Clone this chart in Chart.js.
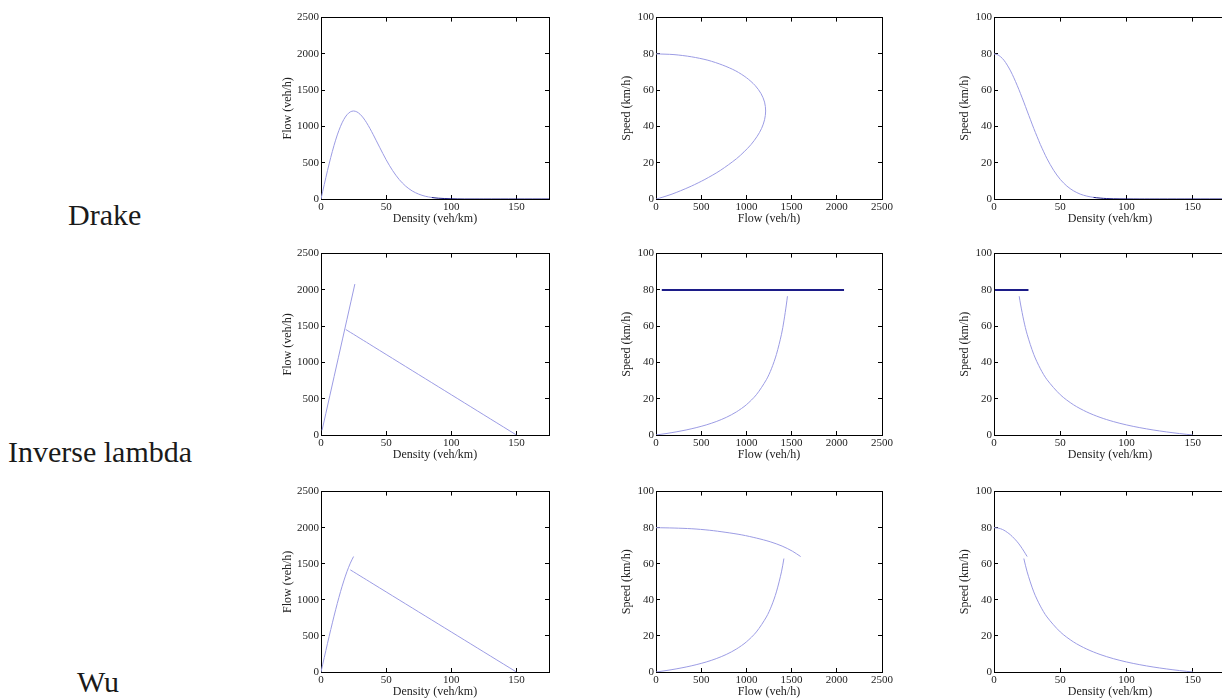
<!DOCTYPE html>
<html>
<head>
<meta charset="utf-8">
<script src="https://cdn.jsdelivr.net/npm/chart.js@4.4.0/dist/chart.umd.min.js"></script>
<style>
  html, body { margin: 0; padding: 0; background: #fff; width: 1222px; height: 700px; overflow: hidden; }
  canvas { position: absolute; }
  .model { position: absolute; font-family: "Liberation Serif", serif; font-size: 30px; line-height: 30px; color: #1a1a1a; white-space: nowrap; }
</style>
</head>
<body>
<div class="model" style="left:68px;top:200px">Drake</div>
<div class="model" style="left:8px;top:437px">Inverse lambda</div>
<div class="model" style="left:77px;top:667px">Wu</div>

<script>
// tick labels
const densityTicks = [0, 50, 100, 150];
const flowTicks = [0, 500, 1000, 1500, 2000, 2500];
const speedTicks = [0, 20, 40, 60, 80, 100];
const densityMax = 175;
const flowMax = 2500;
const speedMax = 100;

// Drake (one curve)
const drakeDensity = [0, 2.5, 5, 7.5, 10, 12.5, 15, 17.5, 20, 22.5, 25, 27.5, 30, 32.5, 35, 37.5, 40, 45, 50, 55, 60, 65, 70, 75, 80, 85, 90, 100, 110, 125, 150, 175];
const drakeFlow = [0, 199, 392, 574, 738, 883, 1002, 1096, 1162, 1201, 1213, 1201, 1168, 1117, 1051, 974, 890, 713, 541, 391, 269, 177, 111, 67, 38, 21, 11, 3, 0, 0, 0, 0];
const drakeSpeed = [80, 79.6, 78.4, 76.5, 73.8, 70.6, 66.8, 62.6, 58.1, 53.4, 48.5, 43.7, 38.9, 34.4, 30.0, 26.0, 22.2, 15.8, 10.8, 7.1, 4.5, 2.7, 1.6, 0.9, 0.5, 0.25, 0.12, 0.03, 0, 0, 0, 0];

// Inverse lambda: free-flow branch and congested branch
const lambdaFreeDensity = [0.8, 26];
const lambdaFreeFlow = [64, 2080];
const lambdaFreeSpeed = [80, 80];
const lambdaCongDensity = [19, 20, 22.5, 25, 30, 35, 40, 50, 60, 70, 80, 90, 100, 110, 120, 130, 140, 150];
const lambdaCongFlow = [1454, 1443, 1415, 1388, 1332, 1277, 1221, 1110, 999, 888, 777, 666, 555, 444, 333, 222, 111, 0];
const lambdaCongSpeed = [76.5, 72.2, 62.9, 55.5, 44.4, 36.5, 30.5, 22.2, 16.65, 12.69, 9.71, 7.4, 5.55, 4.04, 2.78, 1.71, 0.79, 0];

// Wu: free-flow branch and congested branch
const wuFreeDensity = [0, 2.5, 5, 7.5, 10, 12.5, 15, 17.5, 20, 22.5, 25];
const wuFreeFlow = [0, 200, 397, 589, 774, 950, 1114, 1263, 1395, 1508, 1600];
const wuFreeSpeed = [80, 79.8, 79.4, 78.6, 77.4, 76.0, 74.2, 72.2, 69.8, 67.0, 64.0];
const wuCongDensity = [22.5, 25, 30, 35, 40, 50, 60, 70, 80, 90, 100, 110, 120, 130, 140, 150];
const wuCongFlow = [1415, 1388, 1332, 1277, 1221, 1110, 999, 888, 777, 666, 555, 444, 333, 222, 111, 0];
const wuCongSpeed = [62.9, 55.5, 44.4, 36.5, 30.5, 22.2, 16.65, 12.69, 9.71, 7.4, 5.55, 4.04, 2.78, 1.71, 0.79, 0];

const LIGHT = "#9c9ce4";
const NAVY = "#1c1c88";
const TEXT = "#222";
const FONT = "'Liberation Serif', 'Times New Roman', serif";

const colLeft = [321, 656, 994];
const colWidth = [228, 233, 232];
const rowTop = [15, 251, 489];
const rowHeight = [184, 184, 183];

const DENSITY = { max: densityMax, ticks: densityTicks, title: "Density (veh/km)" };
const FLOW = { max: flowMax, ticks: flowTicks, title: "Flow (veh/h)" };
const SPEED = { max: speedMax, ticks: speedTicks, title: "Speed (km/h)" };

function pts(xs, ys) {
  return xs.map((x, i) => ({ x: x, y: ys[i] }));
}

function axis(pos, def, size, labels) {
  const horizontal = pos === "bottom" || pos === "top";
  return {
    type: "linear",
    position: pos,
    min: 0,
    max: def.max,
    afterBuildTicks: (s) => { s.ticks = def.ticks.map((v) => ({ value: v })); },
    afterFit: (s) => { if (horizontal) s.height = size; else s.width = size; },
    border: { display: true, color: "#000", width: 1 },
    grid: { drawOnChartArea: false, drawTicks: true, tickLength: -4, tickColor: "#000", tickWidth: 1 },
    ticks: {
      display: labels,
      padding: 6,
      color: TEXT,
      font: { family: FONT, size: 11 },
      callback: (v) => String(v),
    },
    title: {
      display: labels,
      text: def.title,
      padding: 0,
      color: TEXT,
      font: { family: FONT, size: 12 },
    },
  };
}

function line(xs, ys, color, width, tailLimit) {
  const ds = {
    data: pts(xs, ys),
    showLine: true,
    borderColor: color,
    borderWidth: width,
    pointRadius: 0,
    tension: 0.3,
    fill: false,
  };
  if (tailLimit !== undefined) {
    // the flat tail lying on the axis shows up dark in the original
    ds.segment = {
      borderColor: (c) => (c.p0.parsed.y < tailLimit && c.p1.parsed.y < tailLimit ? NAVY : undefined),
    };
  }
  return ds;
}

function makePlot(row, col, xDef, yDef, datasets) {
  const yw = yDef === FLOW ? 40 : 36;
  const xh = 27;
  const padTop = 10;
  const padRight = 10;
  const L = colLeft[col], T = rowTop[row], W = colWidth[col], H = rowHeight[row];
  const cv = document.createElement("canvas");
  cv.width = W + yw + padRight;
  cv.height = H + padTop + xh;
  cv.style.left = (L - yw) + "px";
  cv.style.top = (T - padTop) + "px";
  cv.style.width = cv.width + "px";
  cv.style.height = cv.height + "px";
  document.body.appendChild(cv);

  new Chart(cv, {
    type: "scatter",
    data: { datasets: datasets },
    options: {
      responsive: false,
      animation: false,
      devicePixelRatio: 1,
      layout: { padding: { left: 0, top: padTop, right: padRight, bottom: 0 } },
      plugins: { legend: { display: false }, tooltip: { enabled: false } },
      scales: {
        x: axis("bottom", xDef, xh, true),
        y: axis("left", yDef, yw, true),
        x2: axis("top", xDef, 0, false),
        y2: axis("right", yDef, 0, false),
      },
    },
  });
}

// Drake
makePlot(0, 0, DENSITY, FLOW, [line(drakeDensity, drakeFlow, LIGHT, 1, 25)]);
makePlot(0, 1, FLOW, SPEED, [line(drakeFlow, drakeSpeed, LIGHT, 1)]);
makePlot(0, 2, DENSITY, SPEED, [line(drakeDensity, drakeSpeed, LIGHT, 1, 1)]);

// Inverse lambda
makePlot(1, 0, DENSITY, FLOW, [
  line(lambdaFreeDensity, lambdaFreeFlow, LIGHT, 1),
  line(lambdaCongDensity, lambdaCongFlow, LIGHT, 1),
]);
makePlot(1, 1, FLOW, SPEED, [
  line(lambdaFreeFlow, lambdaFreeSpeed, NAVY, 2),
  line(lambdaCongFlow, lambdaCongSpeed, LIGHT, 1),
]);
makePlot(1, 2, DENSITY, SPEED, [
  line(lambdaFreeDensity, lambdaFreeSpeed, NAVY, 2),
  line(lambdaCongDensity, lambdaCongSpeed, LIGHT, 1),
]);

// Wu
makePlot(2, 0, DENSITY, FLOW, [
  line(wuFreeDensity, wuFreeFlow, LIGHT, 1),
  line(wuCongDensity, wuCongFlow, LIGHT, 1),
]);
makePlot(2, 1, FLOW, SPEED, [
  line(wuFreeFlow, wuFreeSpeed, LIGHT, 1),
  line(wuCongFlow, wuCongSpeed, LIGHT, 1),
]);
makePlot(2, 2, DENSITY, SPEED, [
  line(wuFreeDensity, wuFreeSpeed, LIGHT, 1),
  line(wuCongDensity, wuCongSpeed, LIGHT, 1),
]);
</script>
</body>
</html>
